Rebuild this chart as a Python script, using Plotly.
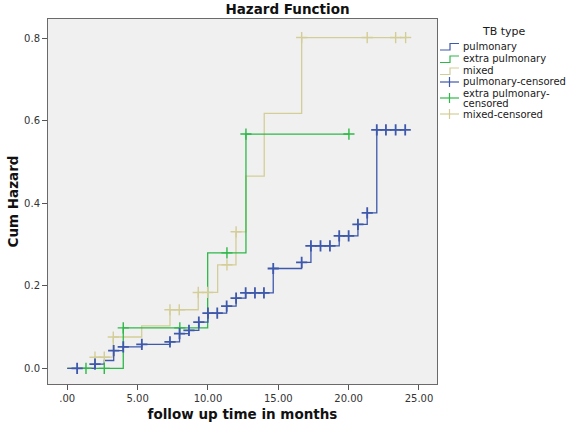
import plotly.graph_objects as go

# ---------------- data ----------------
x_tickvals = [0, 5, 10, 15, 20, 25]
x_ticktext = [".00", "5.00", "10.00", "15.00", "20.00", "25.00"]
y_tickvals = [0.0, 0.2, 0.4, 0.6, 0.8]
y_ticktext = ["0.0", "0.2", "0.4", "0.6", "0.8"]

series_names = ["pulmonary", "extra pulmonary", "mixed"]

pulm_time = [0, 1.97, 2.63, 3.3, 3.98, 5.3, 7.3, 7.98, 8.65, 9.35, 10.0, 11.33,
             12.0, 12.68, 14.64, 16.66, 17.32, 19.33, 20.66, 21.32, 22.0, 24.02]
pulm_hazard = [0, 0.010, 0.019, 0.043, 0.052, 0.058, 0.064, 0.084, 0.092, 0.112,
               0.134, 0.151, 0.170, 0.183, 0.242, 0.257, 0.297, 0.321, 0.349,
               0.377, 0.578, 0.578]
pulm_censored = [0.7, 1.97, 3.3, 3.98, 5.3, 7.3, 7.98, 8.65, 9.35, 10.0, 10.66,
                 11.33, 12.0, 12.68, 13.34, 13.98, 14.64, 16.66, 17.32, 18.0,
                 18.67, 19.33, 20.0, 20.66, 21.32, 22.0, 22.65, 23.34, 24.02]

extra_time = [0, 3.98, 9.98, 12.7, 20.02]
extra_hazard = [0, 0.098, 0.280, 0.568, 0.568]
extra_censored = [1.33, 2.63, 3.98, 8.0, 11.35, 12.7, 20.02]

mixed_time = [0, 1.97, 3.27, 5.29, 7.3, 9.31, 10.69, 11.99, 12.7, 14.0, 16.66, 24.05]
mixed_hazard = [0, 0.027, 0.076, 0.103, 0.142, 0.184, 0.251, 0.331, 0.466,
                0.618, 0.802, 0.802]
mixed_censored = [1.97, 2.63, 3.27, 7.3, 7.96, 9.31, 9.98, 11.35, 12.0, 16.66,
                  21.32, 23.34, 24.05]

colors = ["#3E58AC", "#2EB848", "#D3CE97"]

# ---------------- helpers ----------------
def hazard_at(times, haz, t):
    idx = 0
    for i, tt in enumerate(times):
        if tt <= t + 1e-9:
            idx = i
    return haz[idx]

FONT = "DejaVu Sans"

fig = go.Figure()

all_series = [
    (pulm_time, pulm_hazard, pulm_censored),
    (extra_time, extra_hazard, extra_censored),
    (mixed_time, mixed_hazard, mixed_censored),
]

# draw in order mixed, extra, pulmonary so blue is on top
for k in [2, 1, 0]:
    t, h, c = all_series[k]
    fig.add_trace(go.Scatter(
        x=t, y=h, mode="lines", line=dict(color=colors[k], width=1.3, shape="hv"),
        name=series_names[k], showlegend=False, hoverinfo="skip"))
for k in [2, 1, 0]:
    t, h, c = all_series[k]
    fig.add_trace(go.Scatter(
        x=c, y=[hazard_at(t, h, v) for v in c], mode="markers",
        marker=dict(symbol="cross-thin", size=8,
                    line=dict(color=colors[k], width=1.8 if k == 0 else 1.4)),
        name=series_names[k] + "-censored", showlegend=False, hoverinfo="skip"))

# ---------------- geometry ----------------
W, H = 567, 427
L, R, T, B = 48, 437, 19, 384   # plot area in pixels


def px(xp):
    return (xp - L) / (R - L)


def py(yp):
    return (B - yp) / (B - T)


shapes = []
annotations = []

# legend title
annotations.append(dict(x=px(504), y=py(31.5), xref="paper", yref="paper",
                        text="TB type", showarrow=False, xanchor="center",
                        yanchor="middle", font=dict(family=FONT, size=11, color="#1a1a1a")))

line_rows = [46, 58.5, 70.5]
for k, name in enumerate(series_names):
    yc = line_rows[k]
    path = "M {} {} L {} {} L {} {} L {} {}".format(
        px(440), py(yc + 4), px(450), py(yc + 4), px(450), py(yc - 2.5), px(459), py(yc - 2.5))
    shapes.append(dict(type="path", path=path, xref="paper", yref="paper",
                       line=dict(color=colors[k], width=1.2)))
    annotations.append(dict(x=px(460.5), y=py(yc), xref="paper", yref="paper",
                            text=name, showarrow=False, xanchor="left", yanchor="middle",
                            font=dict(family=FONT, size=10, color="#1a1a1a")))

cens_rows = [82, 98, 114]
for k, name in enumerate(series_names):
    yc = cens_rows[k]
    shapes.append(dict(type="line", xref="paper", yref="paper",
                       x0=px(440), x1=px(459), y0=py(yc), y1=py(yc),
                       line=dict(color=colors[k], width=1.2)))
    shapes.append(dict(type="line", xref="paper", yref="paper",
                       x0=px(449.5), x1=px(449.5), y0=py(yc - 5), y1=py(yc + 5),
                       line=dict(color=colors[k], width=1.2)))
    label = name + "-censored"
    if k == 1:
        annotations.append(dict(x=px(460.5), y=py(93), xref="paper", yref="paper",
                                text=name + "-", showarrow=False, xanchor="left",
                                yanchor="middle",
                                font=dict(family=FONT, size=10, color="#1a1a1a")))
        annotations.append(dict(x=px(460.5), y=py(103), xref="paper", yref="paper",
                                text="censored", showarrow=False, xanchor="left",
                                yanchor="middle",
                                font=dict(family=FONT, size=10, color="#1a1a1a")))
    else:
        annotations.append(dict(x=px(460.5), y=py(yc), xref="paper", yref="paper",
                                text=label, showarrow=False, xanchor="left",
                                yanchor="middle",
                                font=dict(family=FONT, size=10, color="#1a1a1a")))

axis_common = dict(showgrid=False, zeroline=False, showline=True, mirror=True,
                   linecolor="#6a6a6a", linewidth=1, ticks="outside", ticklen=5,
                   tickcolor="#555", tickfont=dict(family=FONT, size=10, color="#333"))

fig.update_layout(
    width=W, height=H,
    margin=dict(l=L, r=W - R, t=T, b=H - B, pad=0),
    paper_bgcolor="white", plot_bgcolor="#F0F0F0",
    showlegend=False,
    title=dict(text="Hazard Function", x=287.5 / W, xanchor="center",
               y=1 - 9 / H, yanchor="middle",
               font=dict(family=FONT, size=13.5, color="#111", weight="bold")),
    xaxis=dict(range=[-1.37, 26.28], tickvals=x_tickvals, ticktext=x_ticktext,
               title=dict(text="follow up time in months", standoff=6,
                          font=dict(family=FONT, size=13.5, color="#111", weight="bold")),
               automargin=False, **axis_common),
    yaxis=dict(range=[-0.038, 0.847], tickvals=y_tickvals, ticktext=y_ticktext,
               title=dict(text="Cum Hazard", standoff=2,
                          font=dict(family=FONT, size=13.5, color="#111", weight="bold")),
               automargin=False, **axis_common),
    shapes=shapes, annotations=annotations,
)

fig.write_html(
    "out.html",
    config={"displayModeBar": False},
    post_script="document.body.style.margin='0';document.body.style.overflow='hidden';",
)
